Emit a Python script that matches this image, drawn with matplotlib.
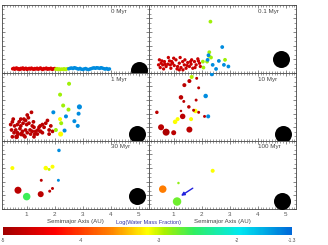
import numpy as np
import matplotlib
matplotlib.use("Agg")
import matplotlib.pyplot as plt
from matplotlib.colors import LinearSegmentedColormap
from matplotlib.ticker import MultipleLocator
from matplotlib.cm import ScalarMappable
from matplotlib.colors import Normalize

plt.rcParams['font.family'] = ['Liberation Sans', 'DejaVu Sans']

# panels
times = ["0 Myr", "0.1 Myr", "1 Myr", "10 Myr", "30 Myr", "100 Myr"]

# 0 Myr : initial disk of embryos (semimajor axis, eccentricity, log water)
a0_red = [0.50, 0.54, 0.57, 0.61, 0.64, 0.68, 0.71, 0.75, 0.79, 0.82, 0.86, 0.90, 0.93,
          0.97, 1.01, 1.05, 1.09, 1.13, 1.17, 1.21, 1.25, 1.29, 1.33, 1.37, 1.41, 1.45,
          1.49, 1.53, 1.57, 1.61, 1.65, 1.70, 1.74, 1.78, 1.82, 1.86, 1.91, 1.95, 2.00]
e0_red = [0.030, 0.034, 0.027, 0.032, 0.036, 0.028, 0.031, 0.025, 0.033, 0.030, 0.036, 0.027, 0.031,
          0.034, 0.026, 0.030, 0.033, 0.028, 0.035, 0.030, 0.026, 0.032, 0.029, 0.034, 0.027, 0.031,
          0.036, 0.029, 0.025, 0.032, 0.030, 0.035, 0.027, 0.031, 0.029, 0.034, 0.026, 0.030, 0.032]
a0_grn = [2.04, 2.08, 2.12, 2.16, 2.20, 2.24, 2.28, 2.33, 2.37, 2.41, 2.46]
e0_grn = [0.027, 0.031, 0.025, 0.029, 0.024, 0.028, 0.026, 0.030, 0.025, 0.028, 0.031]
a0_blu = [2.50, 2.55, 2.60, 2.65, 2.70, 2.75, 2.80, 2.85, 2.90, 2.95, 3.00, 3.05, 3.10, 3.15, 3.20,
          3.25, 3.30, 3.35, 3.40, 3.45, 3.50, 3.55, 3.60, 3.65, 3.70, 3.75, 3.80, 3.85, 3.90, 3.95]
e0_blu = [0.030, 0.034, 0.036, 0.032, 0.038, 0.035, 0.031, 0.028, 0.033, 0.027, 0.025, 0.029, 0.032, 0.027, 0.024,
          0.028, 0.031, 0.035, 0.037, 0.034, 0.038, 0.036, 0.033, 0.038, 0.035, 0.031, 0.028, 0.032, 0.026, 0.029]

# 0.1 Myr
a1_red = [0.49, 0.55, 0.61, 0.52, 0.67, 0.73, 0.79, 0.85, 0.90, 0.96, 1.02, 1.08, 1.14, 1.20, 1.26,
          1.32, 1.38, 1.44, 1.50, 1.56, 1.62, 1.68, 1.74, 1.80, 1.86, 1.92, 1.95, 0.46, 0.64, 0.81,
          1.00, 1.23, 1.40, 1.60, 1.76, 1.12, 0.88, 0.69, 1.48, 1.64, 0.58, 1.33, 0.93, 1.20, 1.88]
e1_red = [0.096, 0.071, 0.059, 0.039, 0.083, 0.047, 0.064, 0.088, 0.034, 0.071, 0.054, 0.096, 0.047, 0.071, 0.039,
          0.083, 0.059, 0.034, 0.076, 0.047, 0.064, 0.034, 0.083, 0.059, 0.103, 0.071, 0.047, 0.059, 0.029, 0.113,
          0.108, 0.113, 0.096, 0.083, 0.039, 0.029, 0.059, 0.064, 0.054, 0.096, 0.088, 0.022, 0.083, 0.022, 0.088]
a1_oth = [2.31, 2.27, 2.25, 2.04, 2.19, 2.33, 2.06, 2.83,
          2.73, 2.24, 2.21, 2.61, 2.39, 2.51, 2.79, 2.95]
e1_oth = [0.377, 0.152, 0.125, 0.083, 0.083, 0.113, 0.039, 0.096,
          0.190, 0.130, 0.096, 0.088, 0.059, 0.029, 0.059, 0.047]
w1_oth = [-2.9, -2.9, -2.9, -2.9, -2.9, -2.9, -2.9, -2.9,
          -1.5, -1.5, -1.5, -1.5, -1.5, -1.5, -1.5, -1.5]

# 1 Myr
a2 = [1.17, 1.02, 1.06, 0.52, 0.90, 0.96, 0.49, 0.73, 0.87, 1.24, 1.68, 1.74, 1.56, 1.62, 1.48, 1.80,
      0.67, 0.57, 0.79, 1.00, 1.20, 0.46, 0.61, 0.76, 0.85, 0.96, 1.12, 1.26, 1.32, 1.40, 1.50, 0.55,
      0.69, 0.81, 0.90, 1.02, 1.14, 1.29, 1.38, 1.48, 0.49, 0.64, 0.94, 1.26, 1.92, 1.56, 1.44, 1.08,
      0.79, 1.20, 1.86, 0.67, 1.80, 0.43,
      2.51, 2.19, 2.30, 2.49, 2.23, 2.04, 2.19, 2.21,
      2.88, 1.95, 2.85, 2.40, 2.70, 2.82, 2.35]
e2 = [0.21, 0.19, 0.17, 0.16, 0.16, 0.15, 0.14, 0.14, 0.13, 0.14, 0.13, 0.15, 0.12, 0.10, 0.11, 0.08,
      0.12, 0.11, 0.11, 0.12, 0.11, 0.08, 0.08, 0.09, 0.07, 0.08, 0.08, 0.10, 0.07, 0.08, 0.07, 0.06,
      0.05, 0.05, 0.04, 0.06, 0.05, 0.05, 0.05, 0.07, 0.03, 0.03, 0.03, 0.03, 0.07, 0.06, 0.10, 0.13,
      0.16, 0.07, 0.11, 0.06, 0.05, 0.12,
      0.42, 0.34, 0.26, 0.23, 0.13, 0.08, 0.16, 0.05,
      0.25, 0.21, 0.20, 0.18, 0.145, 0.11, 0.076]
m2 = [0.25] * 54 + [0.3, 0.3, 0.3, 0.3, 0.3, 0.3, 0.3, 0.6,
                    0.6, 0.3, 0.3, 0.3, 0.3, 0.3, 0.3]
m2[41] = 0.5
m2[33] = 0.45
w2 = [-4.8] * 54 + [-2.9, -2.9, -2.9, -2.9, -2.9, -2.9, -3.15, -3.15,
                    -1.5, -1.5, -1.5, -1.5, -1.5, -1.5, -1.5]

# 10 Myr
a3 = [1.64, 1.82, 2.36, 1.56, 1.38, 1.89, 2.14, 1.26, 1.80, 1.36, 1.54, 1.26, 0.40,
      1.77, 1.71, 1.89, 2.23, 2.10, 1.32, 1.62, 1.14, 1.05, 0.55, 0.73, 1.00, 1.56]
e3 = [0.47, 0.46, 0.49, 0.44, 0.41, 0.39, 0.33, 0.32, 0.30, 0.29, 0.25, 0.22, 0.21,
      0.22, 0.225, 0.21, 0.18, 0.18, 0.18, 0.16, 0.16, 0.14, 0.10, 0.064, 0.06, 0.083]
m3 = [0.3, 0.12, 0.3, 0.3, 0.3, 0.12, 0.42, 0.42, 0.12, 0.12, 0.2, 0.07, 0.2,
      0.42, 0.12, 0.12, 0.3, 0.12, 0.77, 0.3, 0.3, 0.42, 1.0, 1.6, 0.58, 1.0]
w3 = [-2.95, -4.8, -1.5, -4.8, -4.8, -4.8, -1.5, -4.8, -4.8, -4.8, -4.8, -4.8, -4.8,
      -3.15, -4.8, -4.8, -1.5, -4.8, -4.8, -3.15, -3.15, -3.15, -4.8, -4.9, -4.8, -4.8]

# 30 Myr
a4 = [2.15, 0.49, 1.68, 1.92, 1.80, 1.52, 2.13, 0.69, 1.92, 1.82, 1.50, 1.00]
e4 = [0.43, 0.30, 0.30, 0.31, 0.29, 0.21, 0.21, 0.137, 0.15, 0.13, 0.108, 0.09]
m4 = [0.2, 0.3, 0.42, 0.3, 0.12, 0.12, 0.12, 1.6, 0.12, 0.12, 1.0, 1.95]
w4 = [-1.5, -3.15, -3.15, -3.15, -3.0, -4.8, -1.5, -4.8, -4.8, -4.8, -4.8, -2.6]

# 100 Myr
a5 = [2.39, 1.17, 0.61, 1.12]
e5 = [0.28, 0.19, 0.145, 0.054]
m5 = [0.3, 0.07, 1.95, 2.8]
w5 = [-3.15, -2.85, -3.65, -2.75]

# Jupiter in each panel
a_jup = [5.00, 4.82, 4.93, 4.89, 4.92, 4.87]
e_jup = [0.018, 0.10, 0.05, 0.05, 0.095, 0.059]

cmap = LinearSegmentedColormap.from_list("wmf", [
    (0.0, "#a00000"), (0.18, "#ff0000"), (0.37, "#ff8000"), (0.5, "#ffff00"),
    (0.56, "#a8f000"), (0.66, "#30ee60"), (0.82, "#00e8f0"), (1.0, "#0068d8")])
norm = Normalize(-5, -1.3)


def msize(m):
    # marker area from embryo mass (diameter ~ m^1/3)
    d = 6.0 * np.cbrt(np.asarray(m, dtype=float)) * 0.72
    return d ** 2


fig = plt.figure(figsize=(3.28, 2.45), dpi=100)
W = 147 / 328
H = 0.2775
lefts = [2 / 328, 149 / 328]
bottoms = [0.7025, 0.425, 0.1475]

panels = [
    (a0_red + a0_grn + a0_blu, e0_red + e0_grn + e0_blu, [0.2] * 80,
     [-4.6] * 39 + [-2.95] * 11 + [-1.5] * 30),
    (a1_red + a1_oth, e1_red + e1_oth, [0.17] * 45 + [0.25] * 16, [-4.7] * 45 + w1_oth),
    (a2, e2, m2, w2),
    (a3, e3, m3, w3),
    (a4, e4, m4, w4),
    (a5, e5, m5, w5),
]

axes = []
for i, (a, e, m, w) in enumerate(panels):
    ax = fig.add_axes([lefts[i % 2], bottoms[i // 2], W, H])
    axes.append(ax)
    ax.scatter(a, e, s=msize(m), c=w, cmap=cmap, norm=norm, linewidths=0, zorder=3)
    ax.scatter([a_jup[i]], [e_jup[i]], s=150, c="black", linewidths=0, zorder=3)
    ax.set_xlim(0.12, 5.36)
    ax.set_ylim(0, 0.5)
    ax.xaxis.set_major_locator(MultipleLocator(1))
    ax.xaxis.set_minor_locator(MultipleLocator(0.1))
    ax.yaxis.set_major_locator(MultipleLocator(0.1))
    ax.yaxis.set_minor_locator(MultipleLocator(0.1 / 3))
    ax.tick_params(which="both", direction="in", top=True, right=True,
                   colors="#555555", labelsize=4.5, pad=2)
    ax.tick_params(which="major", length=2.5, width=0.5)
    ax.tick_params(which="minor", length=1.2, width=0.4)
    ax.set_yticklabels([])
    if i < 4:
        ax.set_xticklabels([])
    else:
        ax.set_xlabel("Semimajor Axis (AU)", fontsize=4.4, color="#444444", labelpad=1.5)
    for sp in ax.spines.values():
        sp.set_linewidth(0.6)
        sp.set_color("#444444")
    ax.text(4.0, 0.455, times[i], fontsize=4.5, color="#444444", ha="left", va="center")

# arrow pointing to the water-rich planet
axes[5].annotate("", xy=(1.26, 0.096), xytext=(1.68, 0.152),
                 arrowprops=dict(arrowstyle="-|>", color="#2222dd", lw=1.0,
                                 mutation_scale=5, shrinkA=0, shrinkB=0))

fig.text(0.452, 0.093, "Log(Water Mass Fraction)", fontsize=4.1, color="#3333aa",
         ha="center", va="center")

cax = fig.add_axes([3 / 328, 0.041, 289 / 328, 0.033])
cb = fig.colorbar(ScalarMappable(norm=norm, cmap=cmap), cax=cax, orientation="horizontal")
cb.set_ticks([-5, -4, -3, -2, -1.3])
cb.set_ticklabels(["-5", "-4", "-3", "-2", "-1.3"])
cb.outline.set_visible(False)
cax.tick_params(length=0, labelsize=3.5, colors="#555555", pad=2)

fig.savefig("out.png", dpi=100)
